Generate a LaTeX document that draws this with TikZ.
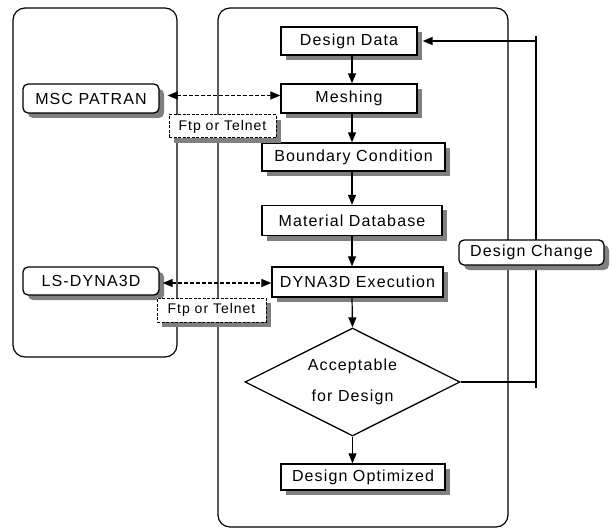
\documentclass[tikz,border=0pt]{standalone}
\usepackage{fontspec}
\setmainfont{Liberation Sans}[LetterSpace=7]
\usetikzlibrary{shapes.geometric,arrows.meta}
\definecolor{shadowgray}{RGB}{128,128,128}

% a box with its grey shadow 5 units right and down:
% style, name, x, y, width, height, text
\newcommand\boxat[7]{%
  \path[#1,draw=none,fill=shadowgray] (#3-#5/2+5,#4-#6/2+5) rectangle (#3+#5/2+5,#4+#6/2+5);
  \node[#1,minimum width=#5pt,minimum height=#6pt] (#2) at (#3,#4) {#7};
}

\begin{document}
\begin{tikzpicture}[x=1pt,y=-1pt,
  panel/.style={draw,line width=1.2pt,rounded corners=12pt,inner sep=0pt},
  box/.style={draw,line width=1.3pt,fill=white,inner sep=0pt,
    font=\fontsize{16}{19}\selectfont},
  tool/.style={box,rounded corners=5pt},
  ftpbox/.style={draw,line width=1pt,dash pattern=on 3pt off 1.5pt,fill=white,inner sep=0pt,
    font=\fontsize{14}{16}\selectfont},
  decision/.style={draw,line width=1.3pt,fill=white,shape=diamond,aspect=2,inner sep=0pt,
    align=center,font=\fontsize{16}{19}\selectfont},
  flow/.style={line width=1.2pt,-{Triangle[length=10pt,width=8pt]}},
  link/.style={line width=1.2pt,dash pattern=on 4pt off 2pt,
    {Triangle[length=10pt,width=8pt]}-{Triangle[length=10pt,width=8pt]}},
  plain/.style={line width=1.2pt}]

\useasboundingbox (0,0) rectangle (612,529);

% the two working areas
\node[panel,minimum width=164pt,minimum height=349pt] (left) at (95,182.5) {};
\node[panel,minimum width=290pt,minimum height=519pt] (right) at (363,267.5) {};

% feedback loop line ends and the flow column
\coordinate (fbtop) at (536,36);
\coordinate (fbbot) at (536,388);
\coordinate (col) at (352,0);

% flow chart
\boxat{box}{dd}{349}{41}{136}{28}{Design Data}
\boxat{box}{mesh}{349}{98.5}{136}{29}{Meshing}
\boxat{box}{bc}{353.5}{157}{183}{28}{Boundary Condition}
\boxat{box}{mat}{352}{220.5}{180}{30}{Material Database}
\boxat{box}{exec}{357.5}{282}{171}{30}{DYNA3D Execution}
\node[decision,minimum width=215pt,minimum height=108pt] (acc) at (352.5,382)
  {Acceptable\\[12pt]for Design};
\boxat{box}{opt}{363}{477}{164}{26}{Design Optimized}

% external tools
\boxat{tool}{patran}{91}{98.5}{136}{29}{MSC PATRAN}
\boxat{tool}{lsdyna}{91}{281}{136}{28}{LS-DYNA3D}

% main flow
\draw[flow] (dd.south -| col)   -- (mesh.north -| col);
\draw[flow] (mesh.south -| col) -- (bc.north -| col);
\draw[flow] (bc.south -| col)   -- (mat.north -| col);
\draw[flow] (mat.south -| col)  -- (exec.north -| col);
\draw[flow] (exec.south -| col) -- (acc.north);
\draw[flow] (acc.south)         -- (opt.north -| acc.south);

% design change loop
\draw[plain] (fbtop) -- (fbbot);
\draw[flow] (acc.east) -- (acc.east -| fbbot) |- ([xshift=5pt]dd.east);
\boxat{tool}{chg}{531.5}{252.5}{145}{25}{Design Change}

% file transfer links
\draw[link] ([xshift=8pt,yshift=3pt]patran.east) -- ([yshift=3pt]mesh.west);
\draw[link] ([xshift=3pt,yshift=-2pt]lsdyna.east) -- ([yshift=-1pt]exec.west);
\boxat{ftpbox}{ftpA}{222.5}{126.5}{107}{23}{Ftp or Telnet}
\boxat{ftpbox}{ftpB}{211.5}{310}{109}{24}{Ftp or Telnet}

\end{tikzpicture}
\end{document}
